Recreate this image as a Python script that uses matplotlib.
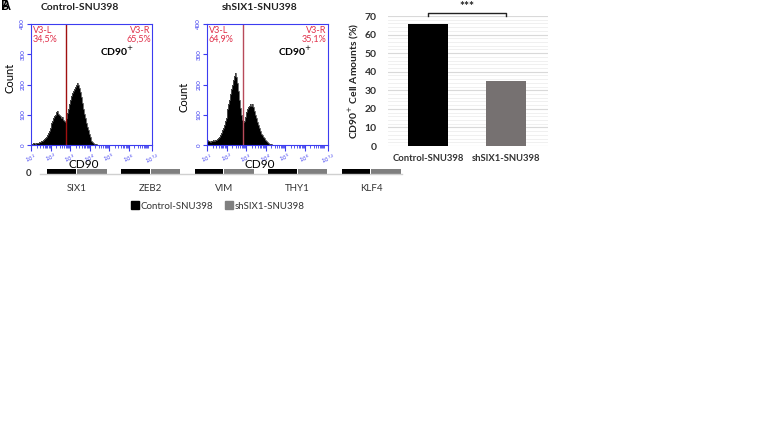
import numpy as np
import matplotlib
matplotlib.use("Agg")
import matplotlib.pyplot as plt
from matplotlib.patches import Patch

plt.rcParams['font.family'] = ['Lato', 'DejaVu Sans']

# ---------------- data ----------------
hist_start = 1.0          # log10 of first bin edge
hist_binw = 0.05          # bin width in log10 units
control_counts = [3, 4, 6, 5, 4, 6, 7, 8, 10, 9, 12, 14, 16, 20, 24, 28, 33, 40, 46, 55,
                  62, 72, 80, 88, 95, 100, 108, 112, 104, 100, 96, 90, 92, 84, 80, 76,
                  90, 105, 120, 135, 150, 162, 172, 180, 186, 192, 200, 205, 198, 190,
                  176, 160, 140, 120, 102, 88, 72, 60, 48, 38, 28, 20, 14, 10, 6, 4, 3, 2, 1, 0]
sh_counts = [15, 12, 14, 10, 13, 12, 15, 14, 17, 18, 20, 24, 28, 33, 40, 48, 56, 66, 78, 90,
             104, 118, 134, 150, 168, 185, 200, 214, 228, 238, 225, 205, 180, 150, 122, 100,
             84, 76, 80, 92, 108, 118, 126, 130, 134, 128, 136, 124, 112, 100, 88, 76, 66,
             56, 46, 38, 32, 26, 22, 18, 14, 10, 8, 6, 4, 3, 2, 1, 0, 0]
gate_control = 2.78
gate_sh = 2.83
control_left_pct = "34,5%"
control_right_pct = "65,5%"
sh_left_pct = "64,9%"
sh_right_pct = "35,1%"

bar_groups = ["Control-SNU398", "shSIX1-SNU398"]
bar_values = [65.5, 35.1]

genes = ["SIX1", "ZEB2", "VIM", "THY1", "KLF4"]
gene_control = [1.0, 1.0, 1.0, 1.0, 1.0]
gene_sh = [0.4, 0.5, 0.6, 0.45, 0.55]

W, H = 764, 422
fig = plt.figure(figsize=(W / 100, H / 100), dpi=100)

def px_axes(x0, y0, x1, y1):
    return fig.add_axes([x0 / W, 1 - y1 / H, (x1 - x0) / W, (y1 - y0) / H])

BLUE = '#3c3cf0'
RED = '#e0304a'

# ------------- bottom strip (drawn first, underneath) -------------
axs = px_axes(40, 169, 402, 174)
xg = np.arange(len(genes))
axs.bar(xg - 0.205, gene_control, width=0.39, color='black')
axs.bar(xg + 0.205, gene_sh, width=0.40, color='#7f7f7f')
axs.set_xlim(-0.5, len(genes) - 0.58)
axs.set_ylim(0, 0.05)
for s in axs.spines.values():
    s.set_visible(False)
axs.axhline(0, color='#d0d0d0', lw=1, clip_on=False)
axs.set_yticks([])
axs.set_xticks(xg)
axs.set_xticklabels(genes, fontsize=7, color='#333333')
axs.tick_params(axis='x', length=0, pad=7)
axs.patch.set_visible(False)
fig.text(29 / W, 1 - 174 / H, "0", fontsize=7, fontweight='bold', color='#333333',
         ha='center', va='center')
fig.legend(handles=[Patch(color='black'), Patch(color='#7f7f7f')],
           labels=bar_groups, loc='center', bbox_to_anchor=(218 / W, 1 - 206 / H),
           ncol=2, frameon=False, fontsize=7, handlelength=0.8, handleheight=0.8,
           handletextpad=0.2, columnspacing=1.2, labelcolor='#333333')

# ------------- histograms -------------
def histogram(ax_box, counts, gate, lpct, rpct, title, title_x, count_xy, gate_color, cd_x):
    ax = px_axes(*ax_box)
    edges = hist_start + hist_binw * np.arange(len(counts) + 1)
    ax.stairs(counts, edges, fill=True, color='black', lw=0)
    ax.stairs(counts, edges, color='#555555', lw=0.6)
    ax.axvline(gate, color=gate_color, lw=1.0)
    ax.set_xlim(1, 7.2)
    ax.set_ylim(0, 400)
    for s in ax.spines.values():
        s.set_color(BLUE)
        s.set_linewidth(0.8)
    ax.set_xticks([1, 2, 3, 4, 5, 6, 7.2])
    ax.set_xticklabels([r"$10^{1}$", r"$10^{2}$", r"$10^{3}$", r"$10^{4}$", r"$10^{5}$",
                        r"$10^{6}$", r"$10^{7.2}$"],
                       fontsize=4, color=BLUE, rotation=20)
    minors = [k + np.log10(m) for k in range(1, 8) for m in range(2, 10) if k + np.log10(m) < 7.2]
    minors.append(7.0)
    ax.set_xticks(minors, minor=True)
    ax.tick_params(axis='x', which='major', length=4, color=BLUE, pad=1, direction='out')
    ax.tick_params(axis='x', which='minor', length=2.5, color=BLUE, width=0.6, direction='out')
    ax.set_yticks([0, 100, 200, 300, 400])
    ax.set_yticklabels(["0", "100", "200", "300", "400"], fontsize=4.5, color=BLUE,
                       rotation=90, va='center')
    ax.tick_params(axis='y', length=3, color=BLUE, pad=1)
    ax.text(0.015, 0.985, "V3-L\n" + lpct, transform=ax.transAxes, color=RED,
            fontsize=6.5, ha='left', va='top', linespacing=0.95)
    ax.text(0.99, 0.985, "V3-R\n" + rpct, transform=ax.transAxes, color=RED,
            fontsize=6.5, ha='right', va='top', linespacing=0.95)
    ax.text(cd_x, 0.77, r"CD90$^{+}$",
            transform=ax.transAxes, fontsize=7.5, fontweight='bold', ha='left', va='center')
    fig.text(title_x / W, 1 - 7 / H, title, fontsize=7.5, fontweight='bold',
             ha='center', va='center', color='#222222')
    fig.text(count_xy[0] / W, 1 - count_xy[1] / H, "Count", fontsize=8, rotation=90,
             ha='center', va='center')
    fig.text(((ax_box[0] + ax_box[2]) / 2 - 8) / W, 1 - 165 / H, "CD90", fontsize=8.5,
             ha='center', va='center')
    return ax

histogram((31, 24, 152, 145), control_counts, gate_control, control_left_pct,
          control_right_pct, "Control-SNU398", 80, (10, 78), '#a01010', 0.57)
histogram((207, 24, 328, 145), sh_counts, gate_sh, sh_left_pct, sh_right_pct,
          "shSIX1-SNU398", 260, (184, 97), '#b84a5a', 0.59)

# ------------- bar chart -------------
axb = px_axes(388, 16, 548, 146)
xb = np.arange(len(bar_groups))
axb.bar(xb, bar_values, width=0.51, color=['black', '#767171'], zorder=3)
axb.set_xlim(-0.51, 1.53)
axb.set_ylim(0, 70)
axb.set_yticks(np.arange(0, 71, 10))
axb.set_yticks(np.arange(0, 71, 2), minor=True)
axb.grid(axis='y', which='major', color='#d9d9d9', lw=0.8, zorder=0)
axb.grid(axis='y', which='minor', color='#eeeeee', lw=0.6, zorder=0)
for s in axb.spines.values():
    s.set_visible(False)
axb.tick_params(axis='both', which='both', length=0)
axb.set_xticks(xb)
axb.set_xticklabels(bar_groups, fontsize=6.8, fontweight='bold', color='#333333')
axb.tick_params(axis='x', pad=6)
for lab in axb.get_yticklabels():
    lab.set_fontsize(7.5)
    lab.set_fontweight('bold')
    lab.set_color('#333333')
axb.tick_params(axis='y', pad=8)
axb.set_ylabel(r"CD90$^{+}$ Cell Amounts (%)", fontsize=7.5, fontweight='bold',
               color='#222222', labelpad=3)
# significance bracket
yb = 71.5
axb.plot([xb[0], xb[0], xb[1], xb[1]], [yb - 1.5, yb, yb, yb - 1.5], color='#222222',
         lw=1, clip_on=False)
axb.text((xb[0] + xb[1]) / 2, yb + 0.5, "***", ha='center', va='bottom', fontsize=8.5,
         fontweight='bold', color='#222222')

# panel letters
fig.text(1 / W, 1 - 6 / H, "B", fontsize=9, fontweight='bold', ha='left', va='center')
fig.text(1 / W, 1 - 6 / H, "A", fontsize=9, fontweight='bold', ha='left', va='center')

fig.savefig("out.png", dpi=100)
